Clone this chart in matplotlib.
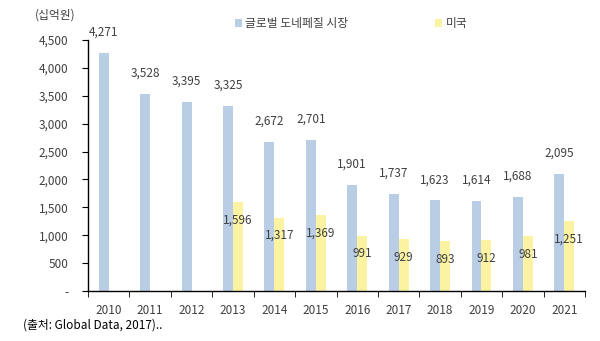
import numpy as np
import matplotlib
matplotlib.use("Agg")
import matplotlib.pyplot as plt
from matplotlib.ticker import FuncFormatter, FixedLocator

plt.rcParams['font.family'] = ['Noto Sans CJK KR', 'DejaVu Sans']

years = ['2010', '2011', '2012', '2013', '2014', '2015',
         '2016', '2017', '2018', '2019', '2020', '2021']
global_market = [4271, 3528, 3395, 3325, 2672, 2701, 1901, 1737, 1623, 1614, 1688, 2095]
us_market = [None, None, None, 1596, 1317, 1369, 991, 929, 893, 912, 981, 1251]

blue = '#B9CDE5'
yellow = '#FBF3A1'
txt = '#404040'

fig = plt.figure(figsize=(6.0, 3.41), dpi=100)
ax = fig.add_axes([0.1467, 0.1466, 0.8283, 0.7361])

x = np.arange(len(years))
w = 0.24

ax.bar(x - w / 2, global_market, w, color=blue, label='글로벌 도네페질 시장')
us_x = [xi + w / 2 for xi, v in zip(x, us_market) if v is not None]
us_v = [v for v in us_market if v is not None]
ax.bar(us_x, us_v, w, color=yellow, label='미국')

for xi, v in zip(x, global_market):
    ax.annotate(f'{v:,}', (xi - w / 2, v), xytext=(0, 15), textcoords='offset points',
                ha='center', va='center', fontsize=8.5, color=txt)
for xi, v in zip(us_x, us_v):
    ax.annotate(f'{v:,}', (xi, v), xytext=(0, -13), textcoords='offset points',
                ha='center', va='center', fontsize=8.5, color=txt)

ax.set_xlim(-0.5, len(years) - 0.5)
ax.set_ylim(0, 4500)
ax.set_yticks(np.arange(0, 4501, 500))
ax.yaxis.set_major_formatter(FuncFormatter(lambda v, p: '-' if v == 0 else f'{int(v):,}'))

ax.set_xticks(x)
ax.set_xticklabels(years)
ax.xaxis.set_minor_locator(FixedLocator(np.arange(-0.5, len(years), 1.0)))
ax.tick_params(axis='x', which='major', length=0, pad=9, labelsize=8.5, labelcolor=txt)
ax.tick_params(axis='x', which='minor', length=4, direction='out', color='black')
ax.tick_params(axis='y', length=4, direction='out', labelsize=8.5, labelcolor=txt, pad=10)

for s in ['top', 'right']:
    ax.spines[s].set_visible(False)
for s in ['left', 'bottom']:
    ax.spines[s].set_color('black')
    ax.spines[s].set_linewidth(1.0)

fig.text(0.058, 0.955, '(십억원)', fontsize=8.5, color=txt, ha='left', va='center')

leg = fig.legend(loc='center', bbox_to_anchor=(0.585, 0.93), ncol=2, frameon=False,
                 fontsize=8.5, handlelength=0.6, handleheight=0.6, columnspacing=7.3,
                 handletextpad=0.3)
for t in leg.get_texts():
    t.set_color(txt)

fig.text(0.038, 0.048, '(출처: Global Data, 2017)..', fontsize=8.5, color='black',
         ha='left', va='center')

fig.savefig('out.png', dpi=100)
